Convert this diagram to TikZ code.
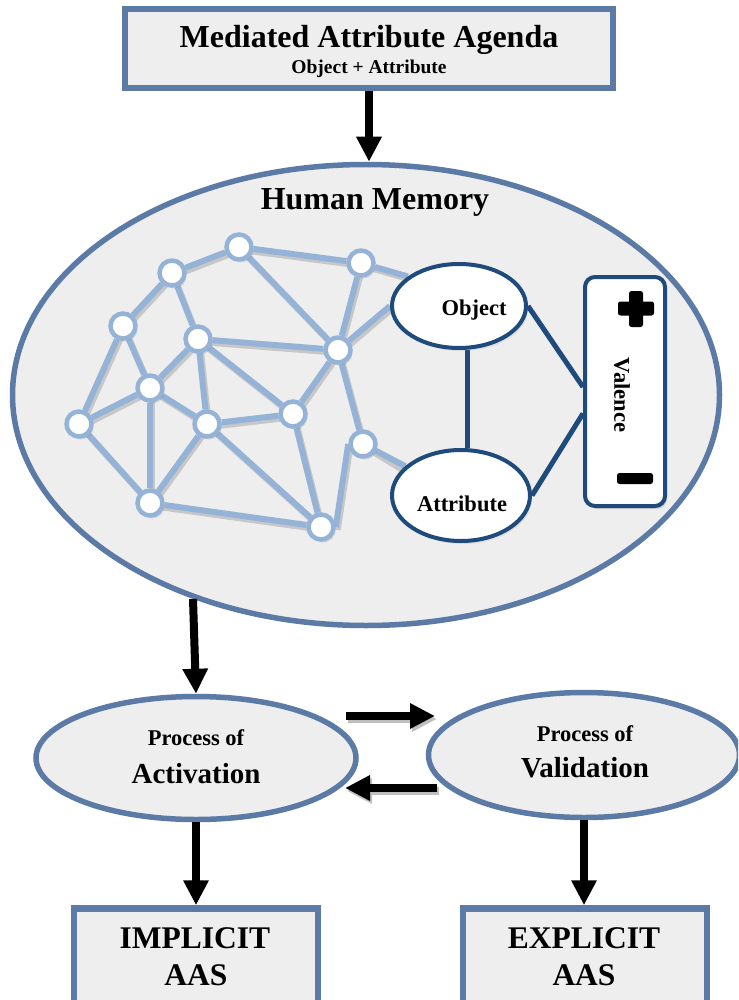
\documentclass[tikz,border=0pt]{standalone}
\usepackage{fontspec}
\setmainfont{Liberation Serif}
\usetikzlibrary{shapes.geometric,arrows.meta,shadows}
\definecolor{frameblue}{HTML}{5B7BA6}
\definecolor{boxfill}{HTML}{EEEEEE}
\definecolor{netblue}{HTML}{95B3D7}
\definecolor{navy}{HTML}{1F4A7C}
\pgfdeclarelayer{bg}
\pgfdeclarelayer{edges}
\pgfsetlayers{bg,edges,main}
\begin{document}
\begin{tikzpicture}[x=1pt,y=-1pt,
  frame/.style={draw=frameblue,line width=6.5pt,fill=boxfill,inner sep=0pt},
  oval/.style={ellipse,draw=frameblue,line width=5.5pt,fill=boxfill,inner sep=0pt},
  netedge/.style={draw=netblue,line width=6pt},
  netshadow/.style={draw=black!22,line width=6pt},
  netnode/.style={circle,draw=netblue,line width=4.5pt,fill=white,minimum size=25pt,inner sep=0pt,
    drop shadow={shadow xshift=2pt,shadow yshift=-3pt,opacity=0.25}},
  concept/.style={ellipse,draw=navy,line width=4pt,fill=white,inner sep=0pt,
    drop shadow={shadow xshift=2pt,shadow yshift=-3pt,opacity=0.15}},
  link/.style={draw=navy,line width=5pt},
  arr/.style={draw=black,line width=8pt,-{Triangle[width=24pt,length=25pt]}},
  arrshadow/.style={draw=black!25,line width=8pt,-{Triangle[width=24pt,length=25pt]}},
  lbl/.style={inner sep=0pt,anchor=base,font=\fontsize{#1}{#1}\selectfont\bfseries}
]
\useasboundingbox (0,0) rectangle (738,1000);
\clip (0,0) rectangle (738,1000);

% memory ellipse
\begin{pgfonlayer}{bg}
\node[oval,minimum width=707pt,minimum height=461pt] (mem) at (366,395) {};
\end{pgfonlayer}

% top box
\node[frame,minimum width=488pt,minimum height=79pt] (agenda) at (369,48.5) {};
\node[lbl=32] (agendaT) at (369,48) {Mediated Attribute Agenda};
\node[lbl=19.5] (agendaS) at (369,74) {Object + Attribute};

\node[lbl=32] (memT) at (375,210) {Human Memory};

% network nodes
\foreach \n/\x/\y in {n1/172/273, n2/239/247, n3/361/263, n4/123/326, n5/198/339,
  n6/338/350, n7/150/388, n8/79/424, n9/207/424, n10/293/414, n11/363/444,
  n12/150/503, n13/321/527}
  \node[netnode] (\n) at (\x,\y) {};

% object / attribute / valence
\node[concept,minimum width=134pt,minimum height=84pt] (obj) at (459,306) {};
\node[lbl=22.5] (objT) at (474,315) {Object};
\node[concept,minimum width=138pt,minimum height=91pt] (att) at (461,495.5) {};
\node[lbl=22.5] (attT) at (462,511) {Attribute};
\node[draw=navy,line width=4pt,fill=white,rounded corners=10pt,minimum width=80pt,minimum height=229pt,
  drop shadow={shadow xshift=2pt,shadow yshift=-3pt,opacity=0.25}] (vb) at (625,391.5) {};
\node[lbl=22.5,anchor=center,rotate=-90] (vbT) at (622,395) {Valence};
\fill[black,rounded corners=2.5pt] (629,291) rectangle (643,327);
\fill[black,rounded corners=2.5pt] (618,301.5) rectangle (654,315.5);
\fill[black,rounded corners=2.5pt] (617,473) rectangle (653,484);

\begin{pgfonlayer}{edges}
\foreach \a/\b in {n1/n2, n2/n3, n2/n6, n1/n4, n1/n5, n4/n7, n4/n8, n5/n7, n5/n9, n5/n6,
  n5/n10, n7/n8, n7/n9, n7/n12, n8/n12, n9/n12, n9/n10, n9/n13, n10/n6, n10/n13,
  n12/n13, n6/n3, n6/n11}
  \draw[netshadow] ([shift={(2,3)}]\a.center) -- ([shift={(2,3)}]\b.center);
\draw[netshadow] ([shift={(2,3)}]n3.center) -- ([shift={(2,3)}]obj.150);
\draw[netshadow] ([shift={(2,3)}]n6.center) -- ([shift={(2,3)}]obj.west);
\draw[netshadow] ([shift={(2,3)}]n11.center) -- ([shift={(2,3)}]att.155);
\draw[netshadow] ([shift={(2,3)}]n13.east) -- ([shift={(2,3)}]n11.west);
\foreach \a/\b in {n1/n2, n2/n3, n2/n6, n1/n4, n1/n5, n4/n7, n4/n8, n5/n7, n5/n9, n5/n6,
  n5/n10, n7/n8, n7/n9, n7/n12, n8/n12, n9/n12, n9/n10, n9/n13, n10/n6, n10/n13,
  n12/n13, n6/n3, n6/n11}
  \draw[netedge] (\a) -- (\b);
\draw[netedge] (n3) -- (obj.150);
\draw[netedge] (n6) -- (obj.west);
\draw[netedge] (n11) -- (att);
\draw[netedge] (n13.east) -- (n11.west);
\draw[link] ([xshift=8pt]obj.south) -- ([xshift=6pt]att.north);
\draw[link] (obj.east) -- ([yshift=4.5pt]vb.west);
\draw[link] (att.east) -- ([yshift=-22pt]vb.west);
\end{pgfonlayer}

% processes
\node[oval,minimum width=320pt,minimum height=123pt] (act) at (196,758) {};
\node[lbl=22.5] (actP) at (196,745.5) {Process of};
\node[lbl=29] (actT) at (196,783) {Activation};
\node[oval,minimum width=311pt,minimum height=125pt] (val) at (584,755) {};
\node[lbl=22.5] (valP) at (585,741) {Process of};
\node[lbl=29] (valT) at (585,777.5) {Validation};

% outcome boxes
\node[frame,minimum width=244pt,minimum height=104pt] (imp) at (196,960.5) {};
\node[lbl=31.5] (impT) at (195,948) {IMPLICIT};
\node[lbl=31.5] (impA) at (196,985) {AAS};
\node[frame,minimum width=244pt,minimum height=104pt] (exp) at (585,960.5) {};
\node[lbl=31.5] (expT) at (584,948) {EXPLICIT};
\node[lbl=31.5] (expA) at (584,985) {AAS};

% arrows
\draw[arr] (agenda.south) -- (agenda.south |- mem.north);
\coordinate (m1) at (193,599);
\draw[arr] (m1) -- (act.north);
\draw[arr] (act.south) -- (imp.north);
\draw[arr] (val.south) -- (val.south |- exp.north);
\coordinate (r1) at (346,716);
\coordinate (r2) at (435,716);
\coordinate (l1) at (437,788);
\coordinate (l2) at (345,788);
\draw[arrshadow] ([shift={(2,3)}]r1) -- ([shift={(2,3)}]r2);
\draw[arrshadow] ([shift={(2,3)}]l1) -- ([shift={(2,3)}]l2);
\draw[arr] (r1) -- (r2);
\draw[arr] (l1) -- (l2);
\end{tikzpicture}
\end{document}
